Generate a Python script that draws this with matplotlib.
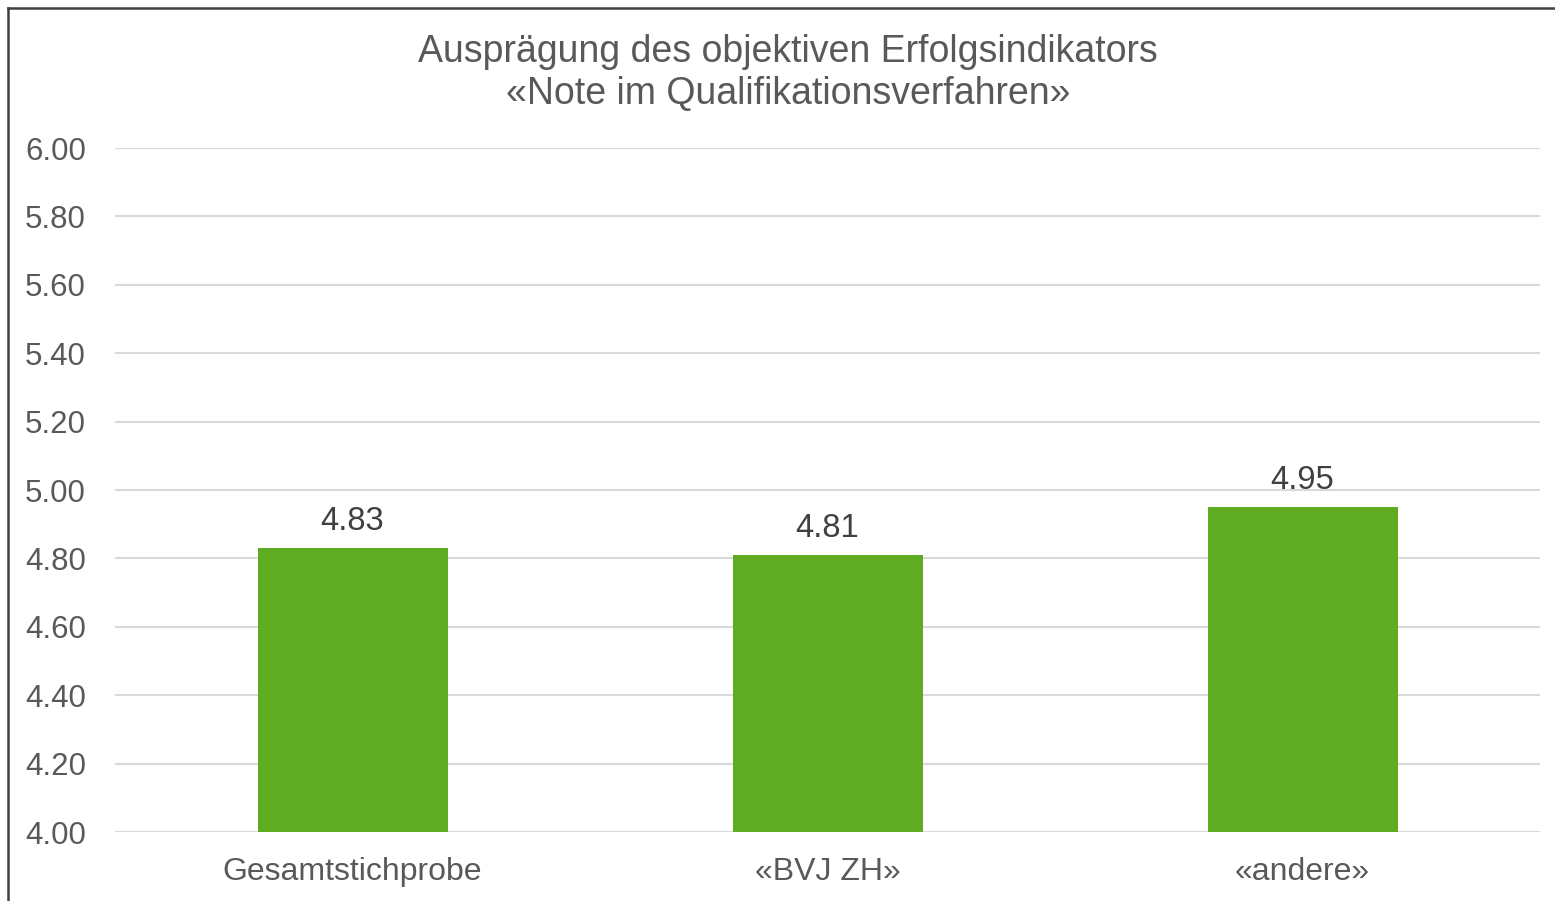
import matplotlib
matplotlib.use("Agg")
import matplotlib.pyplot as plt
from matplotlib.lines import Line2D

plt.rcParams['font.family'] = ['Liberation Sans', 'DejaVu Sans']

categories = ["Gesamtstichprobe", "«BVJ ZH»", "«andere»"]
values = [4.83, 4.81, 4.95]
yticks = [4.00, 4.20, 4.40, 4.60, 4.80, 5.00, 5.20, 5.40, 5.60, 5.80, 6.00]
title_lines = ["Ausprägung des objektiven Erfolgsindikators", "«Note im Qualifikationsverfahren»"]

W, H = 1555, 901
fig = plt.figure(figsize=(W / 100, H / 100), dpi=100)
ax = fig.add_axes([115 / W, 1 - 832 / H, (1540 - 115) / W, (832 - 148) / H])

x = list(range(len(categories)))
ax.bar(x, [v - 4.0 for v in values], bottom=4.0, width=0.4, color="#5fac22", zorder=3)
ax.set_xlim(-0.5, len(categories) - 0.5)
ax.set_ylim(4.0, 6.0)
ax.set_yticks(yticks)
ax.set_yticklabels([f"{t:.2f}" for t in yticks])
ax.set_xticks(x)
ax.set_xticklabels(categories)
ax.tick_params(axis='both', length=0, labelcolor="#595959")
ax.tick_params(axis='y', pad=21, labelsize=22.5)
ax.tick_params(axis='x', pad=18, labelsize=23)
ax.grid(axis='y', color="#d9d9d9", linewidth=1.5, zorder=0)
for s in ax.spines.values():
    s.set_visible(False)

for xi, v in zip(x, values):
    ax.annotate(f"{v:.2f}", (xi, v), xytext=(0, 8), textcoords='offset points',
                ha='center', va='bottom', fontsize=23.5, color="#404040")

fig.text(788 / W, 1 - 52 / H, title_lines[0], ha='center', va='center', fontsize=27, color="#595959")
fig.text(788 / W, 1 - 94 / H, title_lines[1], ha='center', va='center', fontsize=27, color="#595959")

# outer frame (left and top edges)
fig.add_artist(Line2D([7.5 / W, 7.5 / W], [0, 1 - 7.5 / H], transform=fig.transFigure, color="#404040", linewidth=1.8))
fig.add_artist(Line2D([7.5 / W, 1], [1 - 7.5 / H, 1 - 7.5 / H], transform=fig.transFigure, color="#404040", linewidth=1.8))

fig.savefig("out.png", dpi=100, facecolor="white")
